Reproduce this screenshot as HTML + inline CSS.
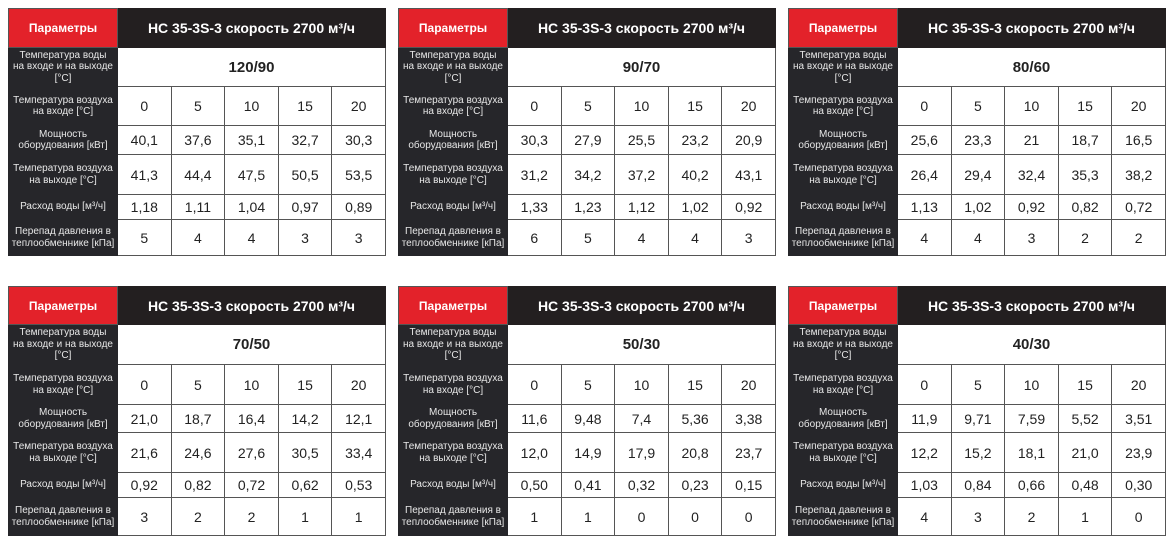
<!DOCTYPE html>
<html><head><meta charset="utf-8"><style>
body{margin:0;width:1170px;height:545px;background:#fff;position:relative;overflow:hidden;font-family:"Liberation Sans","DejaVu Sans",sans-serif}
table{position:absolute;border-collapse:collapse;width:378px;table-layout:fixed}
td{padding:0;text-align:center;vertical-align:middle;border:1px solid #555;color:#222;font-size:14px}
td.l{background:#26262a;color:#e8e8e8;font-size:10px;line-height:11.5px;width:108px;border-color:#26262a}
td.r{background:#e3222a;color:#fff;font-weight:bold;font-size:12px}
td.h{background:#231f20;color:#fff;font-weight:bold;font-size:14px;border-color:#231f20}
td.t{font-weight:bold;font-size:15px}
</style></head><body>
<script>
const data=[
["120/90",["40,1","37,6","35,1","32,7","30,3"],["41,3","44,4","47,5","50,5","53,5"],["1,18","1,11","1,04","0,97","0,89"],["5","4","4","3","3"]],
["90/70",["30,3","27,9","25,5","23,2","20,9"],["31,2","34,2","37,2","40,2","43,1"],["1,33","1,23","1,12","1,02","0,92"],["6","5","4","4","3"]],
["80/60",["25,6","23,3","21","18,7","16,5"],["26,4","29,4","32,4","35,3","38,2"],["1,13","1,02","0,92","0,82","0,72"],["4","4","3","2","2"]],
["70/50",["21,0","18,7","16,4","14,2","12,1"],["21,6","24,6","27,6","30,5","33,4"],["0,92","0,82","0,72","0,62","0,53"],["3","2","2","1","1"]],
["50/30",["11,6","9,48","7,4","5,36","3,38"],["12,0","14,9","17,9","20,8","23,7"],["0,50","0,41","0,32","0,23","0,15"],["1","1","0","0","0"]],
["40/30",["11,9","9,71","7,59","5,52","3,51"],["12,2","15,2","18,1","21,0","23,9"],["1,03","0,84","0,66","0,48","0,30"],["4","3","2","1","0"]]];
const xs=[8,398,788];
const topH=[39,39,39,29,40,25,36], botH=[38,40,40,28,40,25,38];
let h='';
data.forEach((d,i)=>{
 const x=xs[i%3], y=i<3?8:286, H=i<3?topH:botH;
 const row=(arr)=>arr.map(v=>`<td>${v}</td>`).join('');
 h+=`<table style="left:${x}px;top:${y}px">
<tr style="height:${H[0]}px"><td class="r" style="width:108px">Параметры</td><td class="h" colspan="5">НС 35-3S-3 скорость 2700 м³/ч</td></tr>
<tr style="height:${H[1]}px"><td class="l">Температура воды<br>на входе и на выходе<br>[°C]</td><td class="t" colspan="5">${d[0]}</td></tr>
<tr style="height:${H[2]}px"><td class="l">Температура воздуха<br>на входе [°C]</td>${row(["0","5","10","15","20"])}</tr>
<tr style="height:${H[3]}px"><td class="l">Мощность<br>оборудования [кВт]</td>${row(d[1])}</tr>
<tr style="height:${H[4]}px"><td class="l">Температура воздуха<br>на выходе [°C]</td>${row(d[2])}</tr>
<tr style="height:${H[5]}px"><td class="l">Расход воды [м³/ч]</td>${row(d[3])}</tr>
<tr style="height:${H[6]}px"><td class="l">Перепад давления в<br>теплообменнике [кПа]</td>${row(d[4])}</tr>
</table>`;
});
document.write(h);
</script>
</body></html>
